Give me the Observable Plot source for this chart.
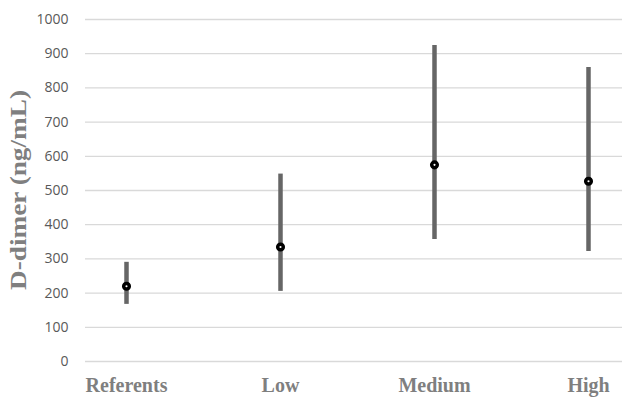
<!DOCTYPE html>
<html>
<head>
<meta charset="utf-8">
<script src="https://cdn.jsdelivr.net/npm/d3@7"></script>
<script src="https://cdn.jsdelivr.net/npm/@observablehq/plot@0.6"></script>
<style>
  html, body { margin: 0; padding: 0; background: #fff; }
  #chart svg { display: block; }
</style>
</head>
<body>
<div id="chart"></div>
<script>
const categories = ["Referents", "Low", "Medium", "High"];
const lowValues = [167, 205, 357, 322];
const highValues = [290, 548, 924, 860];
const midValues = [220, 335, 575, 527];
const yTicks = [0, 100, 200, 300, 400, 500, 600, 700, 800, 900, 1000];
const yTitle = "D-dimer (ng/mL)";

const data = categories.map((c, i) => ({cat: c, lo: lowValues[i], hi: highValues[i], mid: midValues[i]}));

const chart = Plot.plot({
  width: 622,
  height: 398,
  marginLeft: 85,
  marginRight: 0,
  marginTop: 19,
  marginBottom: 37,
  style: {background: "#fff", overflow: "visible"},
  x: {type: "point", domain: categories, padding: 0.2323, align: 0.5417},
  y: {domain: [0, 1000]},
  marks: [
    Plot.gridY(yTicks, {stroke: "#d9d9d9", strokeOpacity: 1, strokeWidth: 1.3}),
    Plot.axisY(yTicks, {tickSize: 0, tickPadding: 17, label: null, fontSize: 14, fontFamily: "Open Sans", fill: "#595959", tickFormat: d => String(d)}),
    Plot.axisX({tickSize: 0, tickPadding: 16, label: null, fontSize: 20, fontWeight: "bold", fontFamily: "Liberation Serif", fill: "#7f7f7f"}),
    Plot.ruleX(data, {x: "cat", y1: "lo", y2: "hi", stroke: "#666666", strokeWidth: 4.5}),
    Plot.dot(data, {x: "cat", y: "mid", r: 2.8, stroke: "#000", strokeWidth: 3.5, fill: "#fff"})
  ]
});

const svg = d3.select(chart);
svg.append("text")
  .attr("transform", "translate(18,190) rotate(-90)")
  .attr("text-anchor", "middle")
  .attr("dominant-baseline", "central")
  .attr("font-family", "Liberation Serif")
  .attr("font-weight", "bold")
  .attr("font-size", 23)
  .attr("fill", "#7f7f7f")
  .attr("textLength", 200)
  .attr("lengthAdjust", "spacingAndGlyphs")
  .text(yTitle);

document.getElementById("chart").appendChild(chart);
</script>
</body>
</html>
